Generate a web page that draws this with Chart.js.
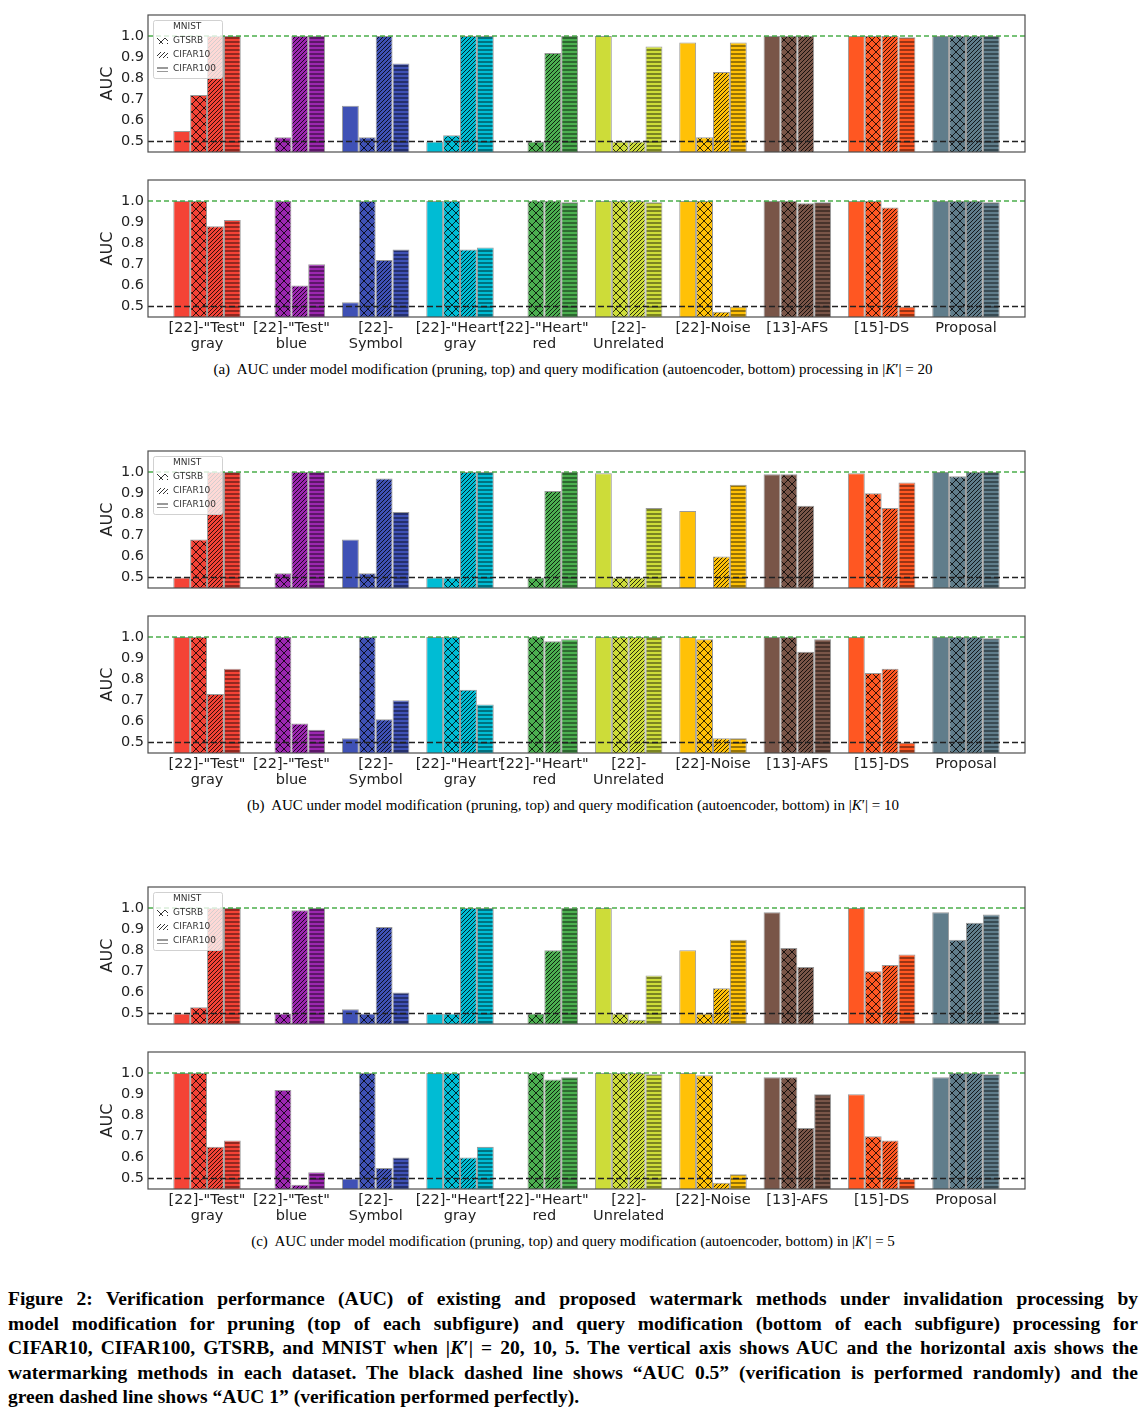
<!DOCTYPE html>
<html>
<head>
<meta charset="utf-8">
<script src="https://cdn.jsdelivr.net/npm/chart.js@4.4.1/dist/chart.umd.min.js"></script>
<style>
  body { margin: 0; background: #fff; }
  #page { position: relative; width: 1146px; height: 1424px; }
  canvas { position: absolute; left: 0; }
  .sub { position: absolute; left: 0; width: 1146px; text-align: center; font: 15px "Liberation Serif", serif; color: #000; }
  #fig { position: absolute; left: 8px; top: 1287px; width: 1130px; font: bold 19.5px "Liberation Serif", serif; line-height: 24.6px; color: #000; }
  #fig div { text-align: justify; text-align-last: justify; white-space: nowrap; }
  #fig div.last { text-align-last: left; }
</style>
</head>
<body>
<div id="page">
  <canvas id="p20" width="1146" height="160" style="top:0px"></canvas>
  <canvas id="q20" width="1146" height="190" style="top:165px"></canvas>
  <div class="sub" style="top:361px">(a)&nbsp; AUC under model modification (pruning, top) and query modification (autoencoder, bottom) processing in |<i>K</i>′| = 20</div>

  <canvas id="p10" width="1146" height="160" style="top:436px"></canvas>
  <canvas id="q10" width="1146" height="190" style="top:601px"></canvas>
  <div class="sub" style="top:797px">(b)&nbsp; AUC under model modification (pruning, top) and query modification (autoencoder, bottom) in |<i>K</i>′| = 10</div>

  <canvas id="p5" width="1146" height="160" style="top:872px"></canvas>
  <canvas id="q5" width="1146" height="190" style="top:1037px"></canvas>
  <div class="sub" style="top:1233px">(c)&nbsp; AUC under model modification (pruning, top) and query modification (autoencoder, bottom) in |<i>K</i>′| = 5</div>

  <div id="fig">
    <div>Figure 2: Verification performance (AUC) of existing and proposed watermark methods under invalidation processing by</div>
    <div>model modification for pruning (top of each subfigure) and query modification (bottom of each subfigure) processing for</div>
    <div>CIFAR10, CIFAR100, GTSRB, and MNIST when |<i>K</i>′| = 20, 10, 5. The vertical axis shows AUC and the horizontal axis shows the</div>
    <div>watermarking methods in each dataset. The black dashed line shows “AUC 0.5” (verification is performed randomly) and the</div>
    <div class="last">green dashed line shows “AUC 1” (verification performed perfectly).</div>
  </div>
</div>

<script>
// metodos (eje x) y conjuntos de datos
const methods = [
  ['[22]-"Test"', 'gray'], ['[22]-"Test"', 'blue'], ['[22]-', 'Symbol'],
  ['[22]-"Heart"', 'gray'], ['[22]-"Heart"', 'red'], ['[22]-', 'Unrelated'],
  '[22]-Noise', '[13]-AFS', '[15]-DS', 'Proposal'
];
const dataNames = ['MNIST', 'GTSRB', 'CIFAR10', 'CIFAR100'];
const hatchKinds = ['', 'x', '/', '-'];
const groupColors = ['#f44336', '#9c27b0', '#3f51b5', '#00bcd4', '#4caf50',
                     '#cddc39', '#ffc107', '#795548', '#ff5722', '#607d8b'];
const yTicks = [0.5, 0.6, 0.7, 0.8, 0.9, 1.0];
const yMin = 0.45, yMax = 1.1;
const randomAUC = 0.5, perfectAUC = 1.0;

// |K'| = 20
const prune20Mnist    = [0.55, null, 0.67, 0.50, null, 1.00, 0.97, 1.00, 1.00, 1.00];
const prune20Gtsrb    = [0.72, 0.52, 0.52, 0.53, 0.50, 0.50, 0.52, 1.00, 1.00, 1.00];
const prune20Cifar10  = [1.00, 1.00, 1.00, 1.00, 0.92, 0.50, 0.83, 1.00, 1.00, 1.00];
const prune20Cifar100 = [1.00, 1.00, 0.87, 1.00, 1.00, 0.95, 0.97, null, 0.995, 1.00];
const query20Mnist    = [1.00, null, 0.52, 1.00, null, 1.00, 1.00, 1.00, 1.00, 1.00];
const query20Gtsrb    = [1.00, 1.00, 1.00, 1.00, 1.00, 1.00, 1.00, 1.00, 1.00, 1.00];
const query20Cifar10  = [0.88, 0.60, 0.72, 0.77, 1.00, 1.00, 0.475, 0.99, 0.97, 1.00];
const query20Cifar100 = [0.91, 0.70, 0.77, 0.78, 0.995, 0.995, 0.50, 0.995, 0.50, 0.995];

// |K'| = 10
const prune10Mnist    = [0.50, null, 0.68, 0.50, null, 0.995, 0.815, 0.99, 0.995, 1.00];
const prune10Gtsrb    = [0.68, 0.52, 0.52, 0.50, 0.50, 0.50, null, 0.99, 0.90, 0.98];
const prune10Cifar10  = [1.00, 1.00, 0.97, 1.00, 0.91, 0.50, 0.60, 0.84, 0.83, 1.00];
const prune10Cifar100 = [1.00, 1.00, 0.81, 1.00, 1.00, 0.83, 0.94, null, 0.95, 1.00];
const query10Mnist    = [1.00, null, 0.52, 1.00, null, 1.00, 1.00, 1.00, 1.00, 1.00];
const query10Gtsrb    = [1.00, 1.00, 1.00, 1.00, 1.00, 1.00, 0.99, 1.00, 0.83, 1.00];
const query10Cifar10  = [0.73, 0.59, 0.61, 0.75, 0.98, 1.00, 0.52, 0.93, 0.85, 1.00];
const query10Cifar100 = [0.85, 0.56, 0.70, 0.68, 0.99, 1.00, 0.52, 0.99, 0.50, 0.995];

// |K'| = 5
const prune5Mnist    = [0.50, null, 0.52, 0.50, null, 1.00, 0.80, 0.98, 1.00, 0.98];
const prune5Gtsrb    = [0.53, 0.50, 0.50, 0.50, 0.50, 0.50, 0.50, 0.81, 0.70, 0.85];
const prune5Cifar10  = [1.00, 0.99, 0.91, 1.00, 0.80, 0.47, 0.62, 0.72, 0.73, 0.93];
const prune5Cifar100 = [1.00, 1.00, 0.60, 1.00, 1.00, 0.68, 0.85, null, 0.78, 0.97];
const query5Mnist    = [1.00, null, 0.50, 1.00, null, 1.00, 1.00, 0.98, 0.90, 0.98];
const query5Gtsrb    = [1.00, 0.92, 1.00, 1.00, 1.00, 1.00, 0.99, 0.98, 0.70, 1.00];
const query5Cifar10  = [0.65, 0.47, 0.55, 0.60, 0.97, 1.00, 0.48, 0.74, 0.68, 1.00];
const query5Cifar100 = [0.68, 0.53, 0.60, 0.65, 0.98, 0.995, 0.52, 0.90, 0.50, 0.995];

// tramas tipo matplotlib: 'x', '//', '--'
function makePattern(color, kind) {
  const s = kind === 'x' ? 8 : 4;
  const c = document.createElement('canvas');
  c.width = s; c.height = s;
  const g = c.getContext('2d');
  g.fillStyle = color;
  g.fillRect(0, 0, s, s);
  g.strokeStyle = 'rgba(0,0,0,0.8)';
  g.lineWidth = 1;
  g.beginPath();
  if (kind === 'x') {
    g.moveTo(0, 0); g.lineTo(s, s);
    g.moveTo(s, 0); g.lineTo(0, s);
  } else if (kind === '/') {
    g.moveTo(-1, s + 1); g.lineTo(s + 1, -1);
    g.moveTo(-1, 1); g.lineTo(1, -1);
    g.moveTo(s - 1, s + 1); g.lineTo(s + 1, s - 1);
  } else {
    g.moveTo(0, s / 2); g.lineTo(s, s / 2);
  }
  g.stroke();
  return g.createPattern(c, 'repeat');
}

// lineas 0.5 / 1.0 y marco
const frameAndLines = {
  id: 'frameAndLines',
  afterDatasetsDraw(chart) {
    const { ctx, chartArea: a, scales: { y } } = chart;
    ctx.save();
    ctx.lineWidth = 1.5;
    ctx.setLineDash([5, 3]);
    ctx.strokeStyle = 'rgba(44,160,44,0.85)';
    let py = y.getPixelForValue(perfectAUC);
    ctx.beginPath(); ctx.moveTo(a.left, py); ctx.lineTo(a.right, py); ctx.stroke();
    ctx.setLineDash([6, 3]);
    ctx.strokeStyle = '#222';
    py = y.getPixelForValue(randomAUC);
    ctx.beginPath(); ctx.moveTo(a.left, py); ctx.lineTo(a.right, py); ctx.stroke();
    ctx.setLineDash([]);
    ctx.strokeStyle = '#4d4d4d';
    ctx.lineWidth = 1.2;
    ctx.strokeRect(a.left, a.top, a.right - a.left, a.bottom - a.top);
    ctx.restore();
  }
};

const hatchLegend = {
  id: 'hatchLegend',
  afterDraw(chart, args, opts) {
    if (!opts.show) return;
    const { ctx, chartArea: a } = chart;
    const x0 = a.left + 5, y0 = a.top + 5;
    ctx.save();
    ctx.fillStyle = 'rgba(255,255,255,0.8)';
    ctx.strokeStyle = 'rgba(204,204,204,0.9)';
    ctx.lineWidth = 1;
    ctx.beginPath();
    ctx.roundRect(x0 + 0.5, y0 + 0.5, 69, 58, 2);
    ctx.fill(); ctx.stroke();
    dataNames.forEach((name, k) => {
      const cy = y0 + 7 + k * 14;
      if (hatchKinds[k]) {
        ctx.save();
        ctx.translate(x0 + 4, cy - 3);
        ctx.fillStyle = makePattern('rgba(0,0,0,0)', hatchKinds[k]);
        ctx.fillRect(0, 0, 11, 6);
        ctx.restore();
      }
      ctx.fillStyle = '#333';
      ctx.font = '9px "DejaVu Sans"';
      ctx.textBaseline = 'middle';
      ctx.fillText(name, x0 + 20, cy);
    });
    ctx.restore();
  }
};

function makeChart(id, series, isTop) {
  const datasets = series.map((vals, k) => ({
    label: dataNames[k],
    data: vals.map((v, i) => ({ x: i, y: v })),
    backgroundColor: groupColors.map(c => hatchKinds[k] ? makePattern(c, hatchKinds[k]) : c),
    borderColor: 'rgba(70,70,70,0.55)',
    borderWidth: 1,
    categoryPercentage: 0.8,
    barPercentage: 1.0
  }));

  new Chart(document.getElementById(id), {
    type: 'bar',
    data: { datasets },
    options: {
      responsive: false,
      animation: false,
      devicePixelRatio: 1,
      layout: { padding: { left: 94, right: 121, top: 15, bottom: isTop ? 8 : 0 } },
      plugins: {
        legend: { display: false },
        tooltip: { enabled: false },
        hatchLegend: { show: isTop }
      },
      scales: {
        x: {
          type: 'linear', min: -0.7, max: 9.7, offset: false,
          display: !isTop,
          grid: { display: false, drawTicks: false },
          border: { display: false },
          afterBuildTicks: s => { s.ticks = methods.map((m, i) => ({ value: i })); },
          afterFit: s => { s.height = isTop ? 0 : 38; s.paddingLeft = 0; s.paddingRight = 0; },
          ticks: {
            autoSkip: false, maxRotation: 0, padding: 3, color: '#222',
            font: { family: 'DejaVu Sans', size: 14.5, lineHeight: 1.12 },
            callback: v => methods[v]
          }
        },
        y: {
          min: yMin, max: yMax,
          grid: { display: false, drawTicks: false },
          border: { display: false },
          afterBuildTicks: s => { s.ticks = yTicks.map(v => ({ value: v })); },
          afterFit: s => { s.width = 54; s.paddingTop = 0; s.paddingBottom = 0; },
          ticks: { autoSkip: false, padding: 4, color: '#222', font: { family: 'DejaVu Sans', size: 14.5 }, callback: v => v.toFixed(1) },
          title: { display: true, text: 'AUC', color: '#222', font: { family: 'DejaVu Sans', size: 16 }, padding: { top: 4, bottom: 0 } }
        }
      }
    },
    plugins: [frameAndLines, hatchLegend]
  });
}

makeChart('p20', [prune20Mnist, prune20Gtsrb, prune20Cifar10, prune20Cifar100], true);
makeChart('q20', [query20Mnist, query20Gtsrb, query20Cifar10, query20Cifar100], false);
makeChart('p10', [prune10Mnist, prune10Gtsrb, prune10Cifar10, prune10Cifar100], true);
makeChart('q10', [query10Mnist, query10Gtsrb, query10Cifar10, query10Cifar100], false);
makeChart('p5', [prune5Mnist, prune5Gtsrb, prune5Cifar10, prune5Cifar100], true);
makeChart('q5', [query5Mnist, query5Gtsrb, query5Cifar10, query5Cifar100], false);
</script>
</body>
</html>
